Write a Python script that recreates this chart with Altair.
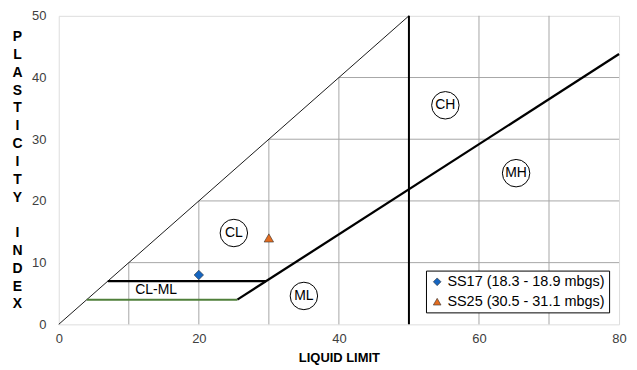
import altair as alt
import pandas as pd

# ---- data ----
sample_names = ["SS17 (18.3 - 18.9 mbgs)", "SS25 (30.5 - 31.1 mbgs)"]
sample_ll = [20, 30]
sample_pi = [8, 14]
sample_colors = ["#1565C0", "#E36C1F"]
sample_shapes = ["diamond", "triangle-up"]

zone_labels = ["CL", "ML", "CH", "MH"]
zone_ll = [25, 35, 55.2, 65.3]
zone_pi = [14.8, 4.6, 35.5, 24.5]

grid_x = [10, 20, 30, 40, 60, 70]
grid_y = [10, 20, 30, 40]

a_line_ll = [25.5, 80]
a_line_pi = [4, 43.8]
line7_ll = [7, 29.6]
line7_pi = [7, 7]
line4_ll = [4, 25.5]
line4_pi = [4, 4]
diag_ll = [0, 50]
diag_pi = [0, 50]
ll50 = 50

y_title = list("PLASTICITY") + ["\u2800"] + list("INDEX")

X = alt.Scale(domain=[0, 80], nice=False)
Y = alt.Scale(domain=[0, 50], nice=False)

vgrid = pd.DataFrame({"x": grid_x, "y0": [0] * len(grid_x), "y1": [min(v, 50) for v in grid_x]})
hgrid = pd.DataFrame({"y": grid_y, "x0": grid_y, "x1": [80] * len(grid_y)})

vg = alt.Chart(vgrid).mark_rule(color="#A6A6A6", strokeWidth=1).encode(
    x=alt.X("x:Q", scale=X), y=alt.Y("y0:Q", scale=Y), y2="y1:Q")
hg = alt.Chart(hgrid).mark_rule(color="#A6A6A6", strokeWidth=1).encode(
    y=alt.Y("y:Q", scale=Y), x=alt.X("x0:Q", scale=X), x2="x1:Q")

def seg(xs, ys, color, width):
    df = pd.DataFrame({"x": xs, "y": ys})
    return alt.Chart(df).mark_line(color=color, strokeWidth=width).encode(
        x=alt.X("x:Q", scale=X), y=alt.Y("y:Q", scale=Y))

diag = seg(diag_ll, diag_pi, "#000000", 0.9)
aline = seg(a_line_ll, a_line_pi, "#000000", 2.3)
l7 = seg(line7_ll, line7_pi, "#000000", 2.3)
l4 = seg(line4_ll, line4_pi, "#4F7F3A", 2)
v50 = alt.Chart(pd.DataFrame({"x": [ll50], "y0": [0], "y1": [50]})).mark_rule(
    color="#000000", strokeWidth=2).encode(
    x=alt.X("x:Q", scale=X), y=alt.Y("y0:Q", scale=Y), y2="y1:Q")

zones = pd.DataFrame({"x": zone_ll, "y": zone_pi, "t": zone_labels})
zc = alt.Chart(zones).mark_point(shape="circle", size=760, filled=True, fill="white",
                                 stroke="#000000", strokeWidth=1, opacity=1).encode(
    x=alt.X("x:Q", scale=X), y=alt.Y("y:Q", scale=Y))
zt = alt.Chart(zones).mark_text(font="Liberation Sans", fontSize=14, color="#000000").encode(
    x=alt.X("x:Q", scale=X), y=alt.Y("y:Q", scale=Y), text="t:N")

clml = alt.Chart(pd.DataFrame({"x": [13.9], "y": [5.6], "t": ["CL-ML"]})).mark_text(
    font="Liberation Sans", fontSize=14, color="#000000").encode(
    x=alt.X("x:Q", scale=X), y=alt.Y("y:Q", scale=Y), text="t:N")

samples = pd.DataFrame({"ll": sample_ll, "pi": sample_pi, "s": sample_names})
pts = alt.Chart(samples).mark_point(filled=True, size=90, opacity=1,
                                    stroke="#333333", strokeWidth=0.6).encode(
    x=alt.X("ll:Q", scale=X,
            axis=alt.Axis(values=[0, 20, 40, 60, 80], grid=False, ticks=False, domain=False,
                          labelFlush=False,
                          labelFont="Liberation Sans", labelFontSize=13, labelColor="#404040",
                          labelPadding=8, title="LIQUID LIMIT", titleFont="Liberation Sans",
                          titleFontSize=13, titleFontWeight="bold", titleColor="#000000",
                          titlePadding=6)),
    y=alt.Y("pi:Q", scale=Y,
            axis=alt.Axis(values=[0, 10, 20, 30, 40, 50], grid=False, ticks=False, domain=False,
                          labelFlush=False,
                          labelFont="Liberation Sans", labelFontSize=13, labelColor="#404040",
                          labelPadding=13,
                          title=y_title,
                          titleAngle=0, titleAlign="center", titleBaseline="top",
                          titleFont="Liberation Sans", titleFontSize=14, titleFontWeight="bold",
                          titleColor="#000000", titleLineHeight=17.9,
                          titleX=-42, titleY=14)),
    color=alt.Color("s:N", scale=alt.Scale(domain=sample_names, range=sample_colors),
                    legend=alt.Legend(title=None, orient="none", legendX=369, legendY=256,
                                      fillColor="white", strokeColor="#000000", padding=4,
                                      labelFont="Liberation Sans", labelFontSize=14.5,
                                      labelColor="#000000", symbolSize=60, rowPadding=5,
                                      symbolStrokeWidth=0.6, labelOffset=3)),
    shape=alt.Shape("s:N", scale=alt.Scale(domain=sample_names, range=sample_shapes),
                    legend=None),
)

chart = alt.layer(vg, hg, diag, v50, aline, l7, l4, zc, zt, clml, pts).properties(
    width=563, height=310,
    autosize=alt.AutoSizeParams(type="none"),
    padding={"left": 51, "top": 7, "right": 10, "bottom": 40},
).configure_view(stroke="#595959", strokeWidth=1).configure(background="white")

chart.save("out.html", embed_options={"renderer": "svg", "actions": False})
